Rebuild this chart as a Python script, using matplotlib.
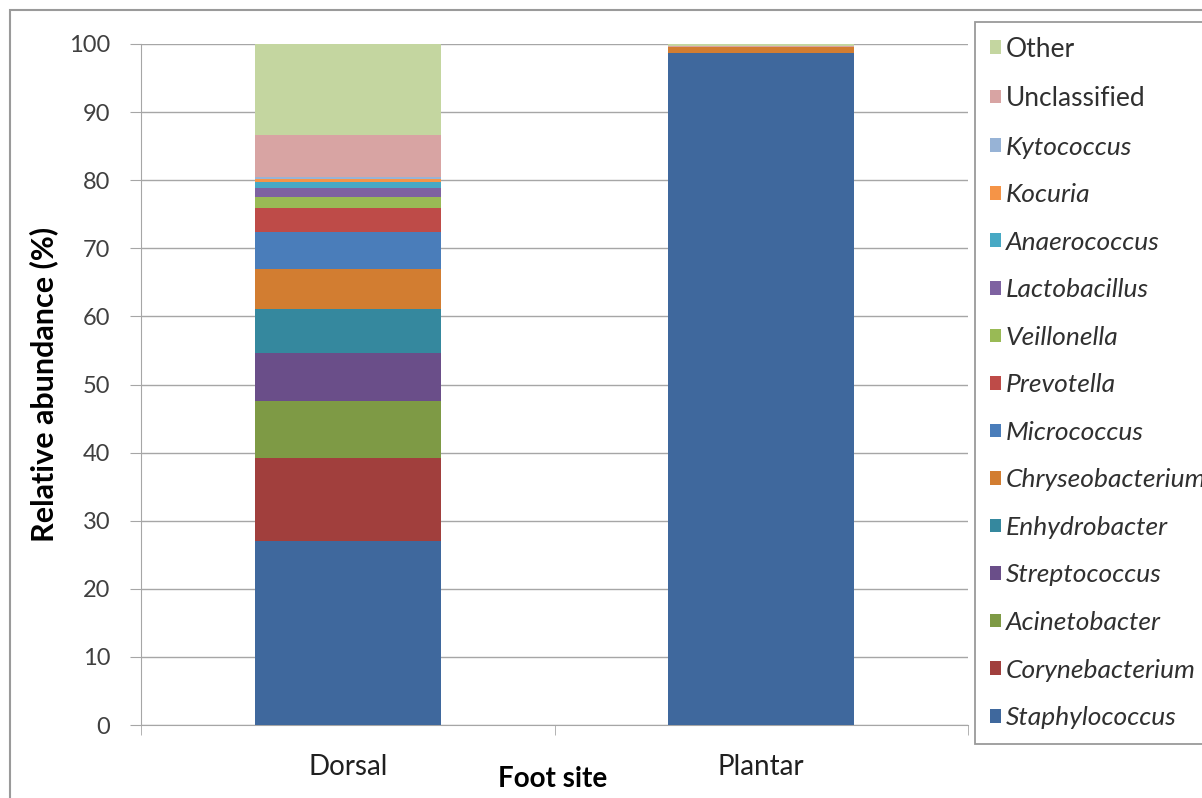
import matplotlib.pyplot as plt
import matplotlib.patches as mpatches
import numpy as np

plt.rcParams['font.family'] = ['Lato', 'DejaVu Sans']

sites = ['Dorsal', 'Plantar']

# stacking order, bottom to top
genera = ['Staphylococcus', 'Corynebacterium', 'Acinetobacter', 'Streptococcus',
          'Enhydrobacter', 'Chryseobacterium', 'Micrococcus', 'Prevotella',
          'Veillonella', 'Lactobacillus', 'Anaerococcus', 'Kocuria',
          'Kytococcus', 'Unclassified', 'Other']

dorsal = [27.0, 12.2, 8.4, 7.0, 6.5, 5.9, 5.4, 3.5, 1.6, 1.4, 0.8, 0.5, 0.2, 6.3, 13.3]
plantar = [98.7, 0.0, 0.0, 0.0, 0.0, 0.8, 0.0, 0.0, 0.0, 0.0, 0.0, 0.0, 0.0, 0.2, 0.3]

colors = ['#3F689D', '#A13F3D', '#7E9A45', '#6A4E89', '#35889E', '#D27D31',
          '#4A7DBA', '#BE4B48', '#99BA55', '#7E62A1', '#47A9C4', '#F59447',
          '#97B3D6', '#D8A4A3', '#C4D6A0']

fig = plt.figure(figsize=(12.02, 7.98), dpi=100)
ax = fig.add_axes([141 / 1202, 73 / 798, (968 - 141) / 1202, (725 - 44) / 798])

# outer chart border
fig.patches.append(mpatches.Rectangle((10 / 1202, -0.05), 1.1, 1 - 10 / 798 + 0.05,
                                      transform=fig.transFigure, fill=False,
                                      edgecolor='#9A9A9A', linewidth=1.5))

x = np.arange(len(sites))
bottom = np.zeros(len(sites))
handles = []
for g, c, d, p in zip(genera, colors, dorsal, plantar):
    vals = np.array([d, p])
    b = ax.bar(x, vals, width=0.45, bottom=bottom, color=c, label=g, zorder=3)
    bottom += vals
    handles.append(b)

ax.set_xlim(-0.5, 1.5)
ax.set_ylim(0, 100)
ax.set_yticks(np.arange(0, 101, 10))
ax.yaxis.grid(True, color='#A6A6A6', linewidth=1.0, zorder=0)
ax.tick_params(axis='y', length=8, color='#A6A6A6', labelsize=17, labelcolor='#404040', pad=14)

ax.set_xticks(x)
ax.set_xticklabels(sites, fontsize=20, color='#202020')
ax.tick_params(axis='x', length=0, pad=21)
# category boundary tick marks
ax.set_xticks([-0.5, 0.5, 1.5], minor=True)
ax.tick_params(axis='x', which='minor', length=7, color='#A6A6A6')

for s in ['top', 'right']:
    ax.spines[s].set_visible(False)
for s in ['left', 'bottom']:
    ax.spines[s].set_color('#A6A6A6')

ax.set_ylabel('Relative abundance (%)', fontsize=22, fontweight='bold', labelpad=8)
fig.text(553 / 1202, 1 - 779 / 798, 'Foot site', fontsize=20, fontweight='bold',
         ha='center', va='center')

leg = fig.legend(handles[::-1], genera[::-1], loc='upper left',
                 bbox_to_anchor=(975 / 1202, 1 - 22 / 798), fontsize=19,
                 frameon=True, fancybox=False, edgecolor='#808080',
                 labelspacing=0.93, handlelength=0.42, handleheight=0.42,
                 handletextpad=0.2, borderpad=0.55, borderaxespad=0)
leg.get_frame().set_linewidth(1.3)
for t in leg.get_texts():
    if t.get_text() not in ('Other', 'Unclassified'):
        t.set_style('italic')
    t.set_color('#303030')

fig.savefig('out.png', dpi=100)
